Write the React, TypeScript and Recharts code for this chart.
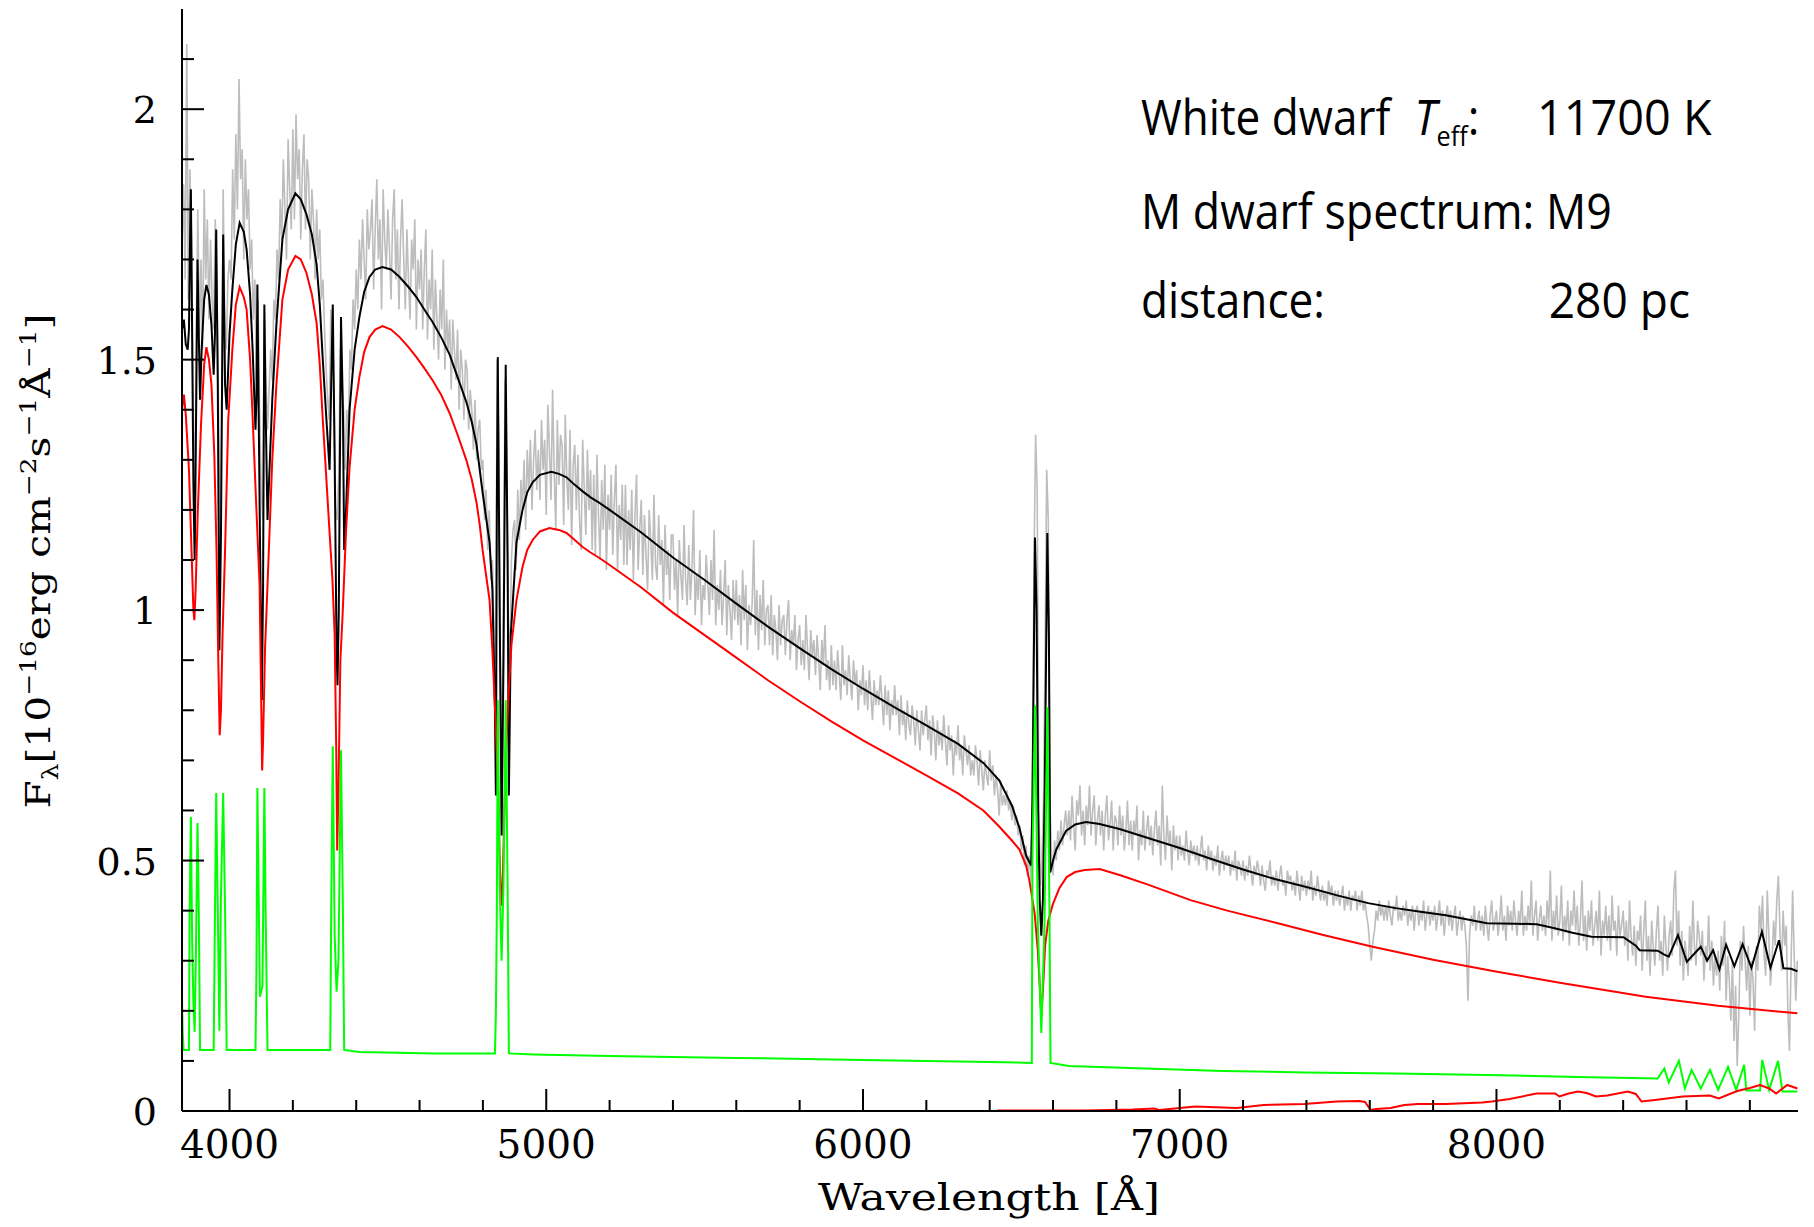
import React from "react";
import { LineChart, Line, XAxis, YAxis } from "recharts";

// observed spectrum, one value every 5 A starting at 3850 A (one row = 50 A)
const obsStart = 3850;
const obsStep = 5;
const observedFlux = [
  1.72, 1.85, 1.66, 2.13, 1.62, 1.88, 1.74, 1.4, 1.22, 1.55, // 3850
  1.8, 1.55, 1.7, 1.52, 1.84, 1.66, 1.78, 1.58, 1.74, 1.62, // 3900
  1.56, 1.78, 1.64, 1.42, 1.12, 1.38, 1.84, 1.58, 1.52, 1.66, // 3950
  1.7, 1.66, 1.88, 1.74, 1.95, 1.8, 2.06, 1.86, 1.92, 1.7, // 4000
  1.9, 1.78, 1.84, 1.68, 1.74, 1.58, 1.66, 1.46, 1.62, 1.4, // 4050
  1.24, 1.18, 1.58, 1.46, 1.36, 1.44, 1.52, 1.46, 1.62, 1.58, // 4100
  1.72, 1.66, 1.82, 1.74, 1.9, 1.8, 1.7, 1.94, 1.84, 1.76, // 4150
  1.96, 1.78, 1.99, 1.86, 1.92, 1.74, 1.88, 1.95, 1.76, 1.9, // 4200
  1.86, 1.7, 1.84, 1.78, 1.66, 1.8, 1.7, 1.76, 1.62, 1.66, // 4250
  1.56, 1.48, 1.42, 1.38, 1.6, 1.54, 1.44, 1.2, 1.18, 1.28, // 4300
  1.52, 1.46, 1.4, 1.28, 1.4, 1.34, 1.52, 1.48, 1.62, 1.56, // 4350
  1.68, 1.6, 1.74, 1.66, 1.78, 1.7, 1.62, 1.8, 1.72, 1.76, // 4400
  1.82, 1.64, 1.76, 1.86, 1.7, 1.78, 1.6, 1.84, 1.74, 1.68, // 4450
  1.8, 1.72, 1.62, 1.78, 1.84, 1.66, 1.76, 1.6, 1.74, 1.82, // 4500
  1.7, 1.6, 1.76, 1.66, 1.58, 1.74, 1.68, 1.78, 1.56, 1.7, // 4550
  1.64, 1.72, 1.56, 1.68, 1.76, 1.54, 1.66, 1.6, 1.72, 1.52, // 4600
  1.66, 1.58, 1.5, 1.64, 1.56, 1.7, 1.48, 1.6, 1.52, 1.58, // 4650
  1.44, 1.58, 1.52, 1.46, 1.56, 1.4, 1.52, 1.48, 1.38, 1.5, // 4700
  1.48, 1.36, 1.44, 1.4, 1.32, 1.42, 1.3, 1.36, 1.38, 1.28, // 4750
  1.3, 1.18, 1.24, 1.12, 1.2, 1.06, 1.1, 0.96, 0.82, 1.5, // 4800
  1.34, 0.88, 0.72, 1.02, 1.46, 1.3, 0.98, 0.9, 1.1, 1.16, // 4850
  1.18, 1.08, 1.24, 1.14, 1.26, 1.2, 1.3, 1.16, 1.32, 1.24, // 4900
  1.34, 1.2, 1.3, 1.36, 1.24, 1.32, 1.22, 1.38, 1.28, 1.34, // 4950
  1.19, 1.41, 1.32, 1.22, 1.44, 1.28, 1.16, 1.38, 1.25, 1.35, // 5000
  1.33, 1.17, 1.39, 1.26, 1.2, 1.36, 1.13, 1.29, 1.33, 1.2, // 5050
  1.31, 1.18, 1.12, 1.34, 1.24, 1.15, 1.32, 1.2, 1.28, 1.12, // 5100
  1.27, 1.11, 1.31, 1.19, 1.1, 1.26, 1.16, 1.29, 1.08, 1.23, // 5150
  1.16, 1.27, 1.11, 1.22, 1.29, 1.08, 1.21, 1.14, 1.25, 1.09, // 5200
  1.25, 1.09, 1.2, 1.12, 1.24, 1.06, 1.19, 1.27, 1.08, 1.16, // 5250
  1.22, 1.07, 1.19, 1.11, 1.04, 1.2, 1.14, 1.06, 1.23, 1.09, // 5300
  1.06, 1.19, 1.09, 1.14, 1.01, 1.17, 1.07, 1.12, 1.02, 1.15, // 5350
  1.15, 1.04, 1.1, 0.99, 1.14, 1.07, 1.02, 1.17, 1.06, 1.01, // 5400
  1.13, 1.02, 1.08, 1.2, 0.99, 1.07, 1.02, 1.12, 0.97, 1.05, // 5450
  1.02, 1.11, 1.05, 0.99, 1.1, 1.02, 1.16, 0.97, 1.05, 1.0, // 5500
  1.08, 0.97, 1.03, 1.1, 0.95, 1.05, 1.0, 0.94, 1.06, 0.98, // 5550
  1.06, 0.97, 1.03, 0.93, 1.08, 0.98, 1.05, 0.92, 1.01, 0.97, // 5600
  1.01, 1.14, 0.95, 1.04, 0.92, 1.03, 0.96, 1.06, 0.93, 1.0, // 5650
  1.01, 0.93, 1.03, 0.91, 0.99, 0.96, 0.9, 1.01, 0.93, 0.98, // 5700
  0.99, 0.91, 0.98, 1.02, 0.9, 0.96, 0.93, 0.99, 0.88, 0.94, // 5750
  0.97, 0.89, 0.94, 0.88, 0.99, 0.92, 0.86, 0.96, 0.91, 0.94, // 5800
  0.87, 0.95, 0.9, 0.84, 0.94, 0.89, 0.97, 0.86, 0.9, 0.84, // 5850
  0.93, 0.85, 0.9, 0.84, 0.92, 0.87, 0.82, 0.93, 0.85, 0.88, // 5900
  0.83, 0.91, 0.86, 0.82, 0.9, 0.85, 0.88, 0.8, 0.86, 0.83, // 5950
  0.89, 0.81, 0.86, 0.8, 0.88, 0.83, 0.78, 0.86, 0.81, 0.84, // 6000
  0.81, 0.87, 0.82, 0.77, 0.85, 0.79, 0.84, 0.76, 0.82, 0.79, // 6050
  0.85, 0.79, 0.82, 0.75, 0.83, 0.77, 0.8, 0.74, 0.82, 0.77, // 6100
  0.75, 0.81, 0.78, 0.73, 0.8, 0.76, 0.72, 0.8, 0.75, 0.78, // 6150
  0.81, 0.74, 0.78, 0.71, 0.79, 0.76, 0.7, 0.78, 0.73, 0.76, // 6200
  0.72, 0.79, 0.74, 0.69, 0.77, 0.72, 0.75, 0.67, 0.74, 0.71, // 6250
  0.77, 0.7, 0.73, 0.67, 0.75, 0.72, 0.69, 0.73, 0.67, 0.7, // 6300
  0.67, 0.73, 0.7, 0.65, 0.72, 0.68, 0.64, 0.7, 0.67, 0.65, // 6350
  0.72, 0.66, 0.69, 0.63, 0.67, 0.64, 0.59, 0.66, 0.61, 0.63, // 6400
  0.61, 0.64, 0.6, 0.62, 0.58, 0.61, 0.57, 0.59, 0.55, 0.57, // 6450
  0.52, 0.55, 0.49, 0.53, 0.47, 0.51, 0.46, 0.66, 1.1, 1.35, // 6500
  1.24, 0.62, 0.45, 0.5, 0.62, 0.92, 1.28, 1.18, 0.62, 0.52, // 6550
  0.47, 0.54, 0.5, 0.56, 0.52, 0.58, 0.53, 0.57, 0.6, 0.55, // 6600
  0.6, 0.54, 0.63, 0.57, 0.52, 0.62, 0.59, 0.65, 0.55, 0.6, // 6650
  0.53, 0.61, 0.57, 0.65, 0.55, 0.6, 0.63, 0.53, 0.58, 0.61, // 6700
  0.55, 0.6, 0.52, 0.59, 0.63, 0.54, 0.57, 0.62, 0.52, 0.59, // 6750
  0.58, 0.53, 0.61, 0.55, 0.59, 0.52, 0.56, 0.62, 0.53, 0.58, // 6800
  0.52, 0.58, 0.55, 0.61, 0.5, 0.56, 0.53, 0.6, 0.52, 0.56, // 6850
  0.59, 0.53, 0.57, 0.51, 0.56, 0.6, 0.53, 0.57, 0.49, 0.65, // 6900
  0.55, 0.5, 0.59, 0.53, 0.56, 0.48, 0.57, 0.52, 0.55, 0.5, // 6950
  0.55, 0.51, 0.53, 0.5, 0.56, 0.52, 0.49, 0.54, 0.51, 0.53, // 7000
  0.5, 0.53, 0.49, 0.52, 0.55, 0.5, 0.52, 0.48, 0.53, 0.5, // 7050
  0.52, 0.48, 0.51, 0.49, 0.53, 0.47, 0.5, 0.52, 0.48, 0.51, // 7100
  0.49, 0.51, 0.47, 0.5, 0.48, 0.52, 0.46, 0.5, 0.49, 0.47, // 7150
  0.5, 0.46, 0.49, 0.47, 0.51, 0.48, 0.45, 0.49, 0.47, 0.5, // 7200
  0.48, 0.45, 0.49, 0.46, 0.44, 0.48, 0.47, 0.5, 0.45, 0.47, // 7250
  0.45, 0.48, 0.44, 0.47, 0.49, 0.45, 0.46, 0.43, 0.48, 0.46, // 7300
  0.47, 0.44, 0.46, 0.43, 0.48, 0.45, 0.42, 0.47, 0.44, 0.46, // 7350
  0.43, 0.46, 0.44, 0.48, 0.42, 0.45, 0.43, 0.47, 0.44, 0.42, // 7400
  0.45, 0.42, 0.44, 0.41, 0.46, 0.43, 0.45, 0.41, 0.44, 0.42, // 7450
  0.44, 0.41, 0.43, 0.45, 0.4, 0.43, 0.41, 0.44, 0.4, 0.43, // 7500
  0.42, 0.44, 0.4, 0.43, 0.41, 0.44, 0.4, 0.42, 0.39, 0.37, // 7550
  0.33, 0.3, 0.34, 0.36, 0.4, 0.38, 0.42, 0.39, 0.41, 0.38, // 7600
  0.41, 0.38, 0.42, 0.39, 0.37, 0.41, 0.4, 0.43, 0.38, 0.4, // 7650
  0.38, 0.41, 0.39, 0.42, 0.37, 0.4, 0.38, 0.41, 0.36, 0.4, // 7700
  0.41, 0.37, 0.4, 0.38, 0.42, 0.36, 0.39, 0.41, 0.37, 0.4, // 7750
  0.38, 0.41, 0.36, 0.39, 0.42, 0.37, 0.4, 0.35, 0.39, 0.41, // 7800
  0.37, 0.4, 0.36, 0.39, 0.41, 0.35, 0.38, 0.4, 0.36, 0.39, // 7850
  0.37, 0.33, 0.22, 0.35, 0.39, 0.37, 0.41, 0.36, 0.38, 0.4, // 7900
  0.36, 0.39, 0.35, 0.41, 0.37, 0.34, 0.39, 0.42, 0.36, 0.38, // 7950
  0.4, 0.35, 0.38, 0.43, 0.36, 0.39, 0.34, 0.41, 0.37, 0.4, // 8000
  0.36, 0.42, 0.38, 0.35, 0.4, 0.37, 0.44, 0.35, 0.39, 0.36, // 8050
  0.41, 0.37, 0.46, 0.35, 0.39, 0.42, 0.34, 0.38, 0.41, 0.36, // 8100
  0.39, 0.35, 0.42, 0.37, 0.48, 0.34, 0.4, 0.36, 0.43, 0.35, // 8150
  0.38, 0.45, 0.34, 0.39, 0.36, 0.42, 0.33, 0.4, 0.37, 0.44, // 8200
  0.36, 0.41, 0.33, 0.38, 0.46, 0.34, 0.39, 0.32, 0.4, 0.36, // 8250
  0.42, 0.33, 0.37, 0.4, 0.34, 0.44, 0.31, 0.38, 0.35, 0.41, // 8300
  0.34, 0.39, 0.32, 0.43, 0.36, 0.38, 0.31, 0.41, 0.35, 0.37, // 8350
  0.4, 0.33, 0.38, 0.3, 0.42, 0.35, 0.31, 0.37, 0.29, 0.36, // 8400
  0.34, 0.39, 0.28, 0.36, 0.42, 0.3, 0.35, 0.27, 0.38, 0.33, // 8450
  0.29, 0.36, 0.41, 0.3, 0.34, 0.27, 0.39, 0.33, 0.28, 0.35, // 8500
  0.38, 0.31, 0.44, 0.48, 0.33, 0.4, 0.29, 0.36, 0.26, 0.34, // 8550
  0.31, 0.27, 0.37, 0.3, 0.42, 0.33, 0.29, 0.38, 0.35, 0.31, // 8600
  0.36, 0.26, 0.33, 0.3, 0.39, 0.28, 0.34, 0.25, 0.31, 0.27, // 8650
  0.32, 0.24, 0.35, 0.29, 0.38, 0.22, 0.31, 0.26, 0.18, 0.3, // 8700
  0.14, 0.25, 0.09, 0.19, 0.34, 0.28, 0.37, 0.3, 0.24, 0.33, // 8750
  0.19, 0.3, 0.26, 0.16, 0.33, 0.28, 0.41, 0.36, 0.43, 0.31, // 8800
  0.27, 0.44, 0.35, 0.25, 0.3, 0.38, 0.33, 0.42, 0.47, 0.36, // 8850
  0.28, 0.4, 0.33, 0.37, 0.2, 0.12, 0.29, 0.44, 0.31, 0.22, // 8900
  0.3,
];

// combined model (white dwarf + M dwarf + emission)
const modelTotal: [number, number][] = [
  [3850, 1.56], [3856, 1.58], [3862, 1.53], [3868, 1.52], [3872, 1.56], [3875, 1.72],
  [3878, 1.84], [3882, 1.55], [3886, 1.25], [3890, 1.1], [3894, 1.35], [3899, 1.7],
  [3903, 1.55], [3907, 1.42], [3912, 1.52], [3920, 1.62], [3927, 1.649], [3935, 1.63],
  [3943, 1.57], [3950, 1.47], [3954, 1.55], [3958, 1.76], [3963, 1.45], [3968, 0.92],
  [3973, 1.15], [3980, 1.75], [3986, 1.45], [3991, 1.4], [4000, 1.55], [4009, 1.64],
  [4020, 1.73], [4032, 1.773], [4045, 1.755], [4054, 1.72], [4065, 1.63], [4073, 1.52],
  [4082, 1.36], [4085, 1.42], [4088, 1.65], [4096, 1.15], [4102, 0.82], [4106, 1.05],
  [4110, 1.61], [4114, 1.4], [4120, 1.18], [4135, 1.42], [4148, 1.57], [4167, 1.74],
  [4185, 1.8], [4208, 1.832], [4225, 1.82], [4243, 1.79], [4260, 1.75], [4275, 1.69],
  [4285, 1.61], [4294, 1.505], [4305, 1.39], [4316, 1.28], [4321, 1.45], [4326, 1.61],
  [4332, 1.3], [4338, 0.92], [4341, 0.85], [4345, 1.0], [4352, 1.585], [4358, 1.4],
  [4362, 1.12], [4368, 1.2], [4379, 1.4], [4395, 1.52], [4410, 1.585], [4425, 1.635],
  [4442, 1.665], [4460, 1.68], [4483, 1.685], [4510, 1.68], [4537, 1.665], [4565, 1.645],
  [4590, 1.625], [4615, 1.6], [4641, 1.575], [4668, 1.545], [4695, 1.51], [4720, 1.465],
  [4748, 1.415], [4765, 1.375], [4780, 1.33], [4799, 1.235], [4810, 1.185], [4821, 1.135],
  [4830, 1.04], [4838, 0.8], [4841, 0.63], [4844, 1.2], [4847, 1.505], [4853, 1.0],
  [4859, 0.55], [4865, 0.9], [4872, 1.49], [4878, 1.1], [4882, 0.63], [4888, 0.95],
  [4906, 1.135], [4925, 1.2], [4940, 1.235], [4957, 1.255], [4980, 1.27], [5016, 1.276],
  [5040, 1.272], [5064, 1.265], [5090, 1.25], [5115, 1.237], [5140, 1.225], [5168, 1.214],
  [5200, 1.2], [5300, 1.155], [5400, 1.105], [5500, 1.06], [5600, 1.013], [5700, 0.967],
  [5800, 0.924], [5900, 0.882], [6000, 0.843], [6100, 0.806], [6200, 0.77], [6300, 0.733],
  [6380, 0.695], [6430, 0.66], [6470, 0.61], [6494, 0.565], [6515, 0.51], [6531, 0.49],
  [6535, 0.62], [6543, 1.145], [6548, 1.0], [6553, 0.6], [6558, 0.42], [6563, 0.35],
  [6568, 0.42], [6574, 0.65], [6582, 1.154], [6587, 0.95], [6591, 0.476], [6600, 0.5],
  [6610, 0.522], [6641, 0.559], [6670, 0.572], [6704, 0.577], [6747, 0.573], [6810, 0.563],
  [6900, 0.545], [7000, 0.525], [7100, 0.503], [7200, 0.482], [7300, 0.463], [7400, 0.447],
  [7500, 0.43], [7595, 0.415], [7682, 0.405], [7760, 0.398], [7840, 0.391], [7970, 0.375],
  [8060, 0.374], [8127, 0.373], [8184, 0.365], [8240, 0.356], [8300, 0.348], [8401, 0.347],
  [8440, 0.33], [8452, 0.321], [8509, 0.32], [8530, 0.312], [8544, 0.308], [8573, 0.351],
  [8601, 0.298], [8645, 0.328], [8665, 0.3], [8684, 0.321], [8704, 0.283], [8725, 0.332],
  [8751, 0.289], [8777, 0.333], [8805, 0.286], [8838, 0.358], [8865, 0.286], [8892, 0.341],
  [8906, 0.285], [8930, 0.284], [8950, 0.279],
];

// white dwarf model
const whiteDwarf: [number, number][] = [
  [3850, 1.4], [3856, 1.43], [3862, 1.39], [3872, 1.28], [3880, 1.12], [3886, 1.0],
  [3889, 0.98], [3893, 1.04], [3900, 1.2], [3910, 1.37], [3920, 1.49], [3927, 1.525],
  [3935, 1.5], [3943, 1.45], [3952, 1.31], [3959, 1.12], [3964, 0.92], [3969, 0.75],
  [3973, 0.8], [3978, 0.95], [3986, 1.12], [3996, 1.38], [4009, 1.52], [4020, 1.61],
  [4032, 1.645], [4045, 1.625], [4054, 1.6], [4065, 1.5], [4073, 1.385], [4085, 1.2],
  [4095, 1.05], [4100, 0.82], [4103, 0.68], [4106, 0.74], [4112, 0.92], [4120, 1.05],
  [4135, 1.3], [4148, 1.45], [4167, 1.62], [4185, 1.68], [4208, 1.707], [4225, 1.7],
  [4243, 1.673], [4260, 1.63], [4275, 1.573], [4285, 1.49], [4294, 1.385], [4305, 1.27],
  [4316, 1.154], [4325, 1.06], [4332, 0.95], [4337, 0.72], [4340, 0.52], [4344, 0.64],
  [4350, 0.9], [4357, 0.99], [4368, 1.16], [4379, 1.285], [4395, 1.4], [4410, 1.465],
  [4425, 1.515], [4442, 1.545], [4460, 1.56], [4483, 1.567], [4510, 1.56], [4537, 1.545],
  [4565, 1.525], [4590, 1.505], [4615, 1.483], [4641, 1.459], [4668, 1.43], [4695, 1.393],
  [4720, 1.35], [4748, 1.299], [4765, 1.26], [4780, 1.214], [4790, 1.17], [4799, 1.12],
  [4810, 1.07], [4821, 1.02], [4830, 0.92], [4840, 0.78], [4848, 0.64], [4854, 0.48],
  [4858, 0.41], [4862, 0.45], [4866, 0.55], [4872, 0.7], [4880, 0.82], [4890, 0.93],
  [4906, 1.02], [4925, 1.086], [4940, 1.12], [4957, 1.14], [4980, 1.157], [5010, 1.164],
  [5040, 1.16], [5064, 1.154], [5090, 1.14], [5115, 1.126], [5140, 1.115], [5168, 1.104],
  [5200, 1.09], [5300, 1.045], [5400, 0.995], [5500, 0.95], [5600, 0.905], [5700, 0.86],
  [5800, 0.818], [5900, 0.778], [6000, 0.74], [6100, 0.705], [6200, 0.67], [6300, 0.634],
  [6380, 0.6], [6430, 0.568], [6470, 0.54], [6494, 0.522], [6515, 0.49], [6526, 0.458],
  [6542, 0.394], [6552, 0.32], [6558, 0.25], [6563, 0.19], [6568, 0.24], [6575, 0.33],
  [6585, 0.38], [6599, 0.412], [6620, 0.445], [6643, 0.467], [6670, 0.477], [6700, 0.481],
  [6747, 0.483], [6810, 0.471], [6900, 0.452], [7034, 0.421], [7150, 0.4], [7322, 0.373],
  [7450, 0.352], [7609, 0.328], [7800, 0.302], [8002, 0.278], [8200, 0.256], [8471, 0.228],
  [8700, 0.21], [8950, 0.195],
];

// emission component
const emission: [number, number][] = [
  [3850, 0.23], [3852, 0.16], [3855, 0.122], [3872, 0.122], [3874, 0.4], [3878, 0.587],
  [3882, 0.34], [3886, 0.215], [3890, 0.158], [3894, 0.32], [3899, 0.575], [3903, 0.4],
  [3907, 0.122], [3950, 0.122], [3954, 0.39], [3958, 0.635], [3963, 0.4], [3968, 0.16],
  [3973, 0.43], [3980, 0.635], [3986, 0.4], [3991, 0.122], [4082, 0.122], [4085, 0.28],
  [4088, 0.645], [4096, 0.228], [4104, 0.25], [4110, 0.645], [4114, 0.4], [4120, 0.122],
  [4318, 0.122], [4321, 0.395], [4326, 0.728], [4332, 0.35], [4338, 0.238], [4344, 0.3],
  [4352, 0.72], [4358, 0.4], [4362, 0.122], [4410, 0.118], [4650, 0.115], [4838, 0.115],
  [4841, 0.195], [4844, 0.4], [4847, 0.82], [4853, 0.45], [4859, 0.3], [4865, 0.45],
  [4872, 0.82], [4878, 0.45], [4882, 0.115], [4960, 0.113], [5200, 0.11], [5600, 0.106],
  [6000, 0.102], [6400, 0.098], [6533, 0.096], [6535, 0.5], [6543, 0.81], [6552, 0.37],
  [6563, 0.156], [6573, 0.37], [6582, 0.806], [6589, 0.385], [6592, 0.096], [6650, 0.09],
  [6747, 0.088], [6891, 0.085], [7136, 0.08], [7394, 0.077], [7682, 0.075], [7970, 0.072],
  [8257, 0.068], [8509, 0.065], [8530, 0.085], [8544, 0.057], [8576, 0.1], [8595, 0.045],
  [8616, 0.082], [8645, 0.045], [8674, 0.082], [8700, 0.042], [8731, 0.088], [8757, 0.042],
  [8782, 0.092], [8789, 0.041], [8832, 0.041], [8839, 0.102], [8861, 0.042], [8889, 0.1],
  [8903, 0.039], [8950, 0.039],
];

// M dwarf template
const mDwarf: [number, number][] = [
  [6424, 0.001], [6700, 0.001], [6850, 0.003], [6919, 0.005], [6935, 0.002], [7049, 0.009],
  [7180, 0.006], [7265, 0.012], [7394, 0.014], [7495, 0.019], [7567, 0.02], [7585, 0.018],
  [7603, 0.002], [7620, 0.004], [7666, 0.006], [7709, 0.012], [7752, 0.014], [7840, 0.014],
  [7955, 0.017], [7985, 0.019], [8042, 0.024], [8127, 0.035], [8185, 0.035], [8199, 0.029],
  [8228, 0.035], [8257, 0.039], [8285, 0.036], [8314, 0.029], [8350, 0.031], [8415, 0.039],
  [8440, 0.034], [8458, 0.019], [8500, 0.022], [8588, 0.029], [8630, 0.03], [8674, 0.031],
  [8702, 0.025], [8760, 0.04], [8800, 0.046], [8832, 0.052], [8861, 0.045], [8883, 0.035],
  [8918, 0.052], [8950, 0.045],
];

const xTicks = [
  4000, 4200, 4400, 4600, 4800, 5000, 5200, 5400, 5600, 5800, 6000, 6200, 6400,
  6600, 6800, 7000, 7200, 7400, 7600, 7800, 8000, 8200, 8400, 8600, 8800,
];
const xLabels = [4000, 5000, 6000, 7000, 8000];
const yTicks = [
  0, 0.1, 0.2, 0.3, 0.4, 0.5, 0.6, 0.7, 0.8, 0.9, 1, 1.1, 1.2, 1.3, 1.4, 1.5,
  1.6, 1.7, 1.8, 1.9, 2, 2.1,
];
const yLabels = [0, 0.5, 1, 1.5, 2];

const toPoints = (arr: [number, number][]) => arr.map(([x, y]) => ({ x, y }));
const observed = observedFlux.map((y, i) => ({ x: obsStart + i * obsStep, y }));

const serif = "DejaVu Serif";
const sans = "Open Sans";

const BottomTick = ({ x, y, payload }: any) => {
  const major = xLabels.includes(payload.value);
  return (
    <g>
      <line x1={x} y1={y} x2={x} y2={y - (major ? 22 : 11)} stroke="#000" strokeWidth={2} />
      {major && (
        <text x={x} y={y + 47} textAnchor="middle" fontFamily={serif} fontSize={39} fill="#000">
          {payload.value}
        </text>
      )}
    </g>
  );
};

const TopTick = ({ x, y, payload }: any) => {
  const major = xLabels.includes(payload.value);
  return <line x1={x} y1={y} x2={x} y2={y + (major ? 22 : 11)} stroke="#000" strokeWidth={2} />;
};

const LeftTick = ({ x, y, payload }: any) => {
  const major = yLabels.includes(payload.value);
  return (
    <g>
      <line x1={x} y1={y} x2={x + (major ? 22 : 12)} y2={y} stroke="#000" strokeWidth={2} />
      {major && (
        <text x={x - 25} y={y + 14} textAnchor="end" fontFamily={serif} fontSize={38} fill="#000">
          {payload.value}
        </text>
      )}
    </g>
  );
};

const RightTick = ({ x, y, payload }: any) => {
  const major = yLabels.includes(payload.value);
  return <line x1={x} y1={y} x2={x - (major ? 22 : 12)} y2={y} stroke="#000" strokeWidth={2} />;
};

const axisLine = { stroke: "#000", strokeWidth: 2 };

export default function App() {
  return (
    <div style={{ position: "absolute", left: 0, top: 0, width: 1814, height: 1227, background: "#fff" }}>
      <LineChart width={1814} height={1227} margin={{ top: 9, right: 16, bottom: 0, left: 0 }}>
        <XAxis
          xAxisId="b"
          type="number"
          dataKey="x"
          domain={[3850, 8952]}
          allowDataOverflow
          ticks={xTicks}
          interval={0}
          tick={(p: any) => <BottomTick {...p} />}
          tickLine={false}
          tickSize={0}
          tickMargin={0}
          height={116}
          axisLine={axisLine}
        />
        <XAxis
          xAxisId="t"
          orientation="top"
          type="number"
          dataKey="x"
          domain={[3850, 8952]}
          allowDataOverflow
          ticks={xTicks}
          interval={0}
          tick={(p: any) => <TopTick {...p} />}
          tickLine={false}
          tickSize={0}
          tickMargin={0}
          height={0}
          axisLine={axisLine}
        />
        <YAxis
          yAxisId="l"
          type="number"
          domain={[0, 2.2]}
          allowDataOverflow
          ticks={yTicks}
          interval={0}
          tick={(p: any) => <LeftTick {...p} />}
          tickLine={false}
          tickSize={0}
          tickMargin={0}
          width={182}
          axisLine={axisLine}
        />
        <YAxis
          yAxisId="r"
          orientation="right"
          type="number"
          domain={[0, 2.2]}
          allowDataOverflow
          ticks={yTicks}
          interval={0}
          tick={(p: any) => <RightTick {...p} />}
          tickLine={false}
          tickSize={0}
          tickMargin={0}
          width={0}
          axisLine={axisLine}
        />
        <Line xAxisId="b" yAxisId="l" data={observed} dataKey="y" type="linear" stroke="#bdbdbd" strokeWidth={1.6} dot={false} isAnimationActive={false} />
        <Line xAxisId="b" yAxisId="l" data={toPoints(modelTotal)} dataKey="y" type="linear" stroke="#000000" strokeWidth={2} dot={false} isAnimationActive={false} />
        <Line xAxisId="b" yAxisId="l" data={toPoints(whiteDwarf)} dataKey="y" type="linear" stroke="#ff0000" strokeWidth={2} dot={false} isAnimationActive={false} />
        <Line xAxisId="b" yAxisId="l" data={toPoints(emission)} dataKey="y" type="linear" stroke="#00ff00" strokeWidth={2} dot={false} isAnimationActive={false} />
        <Line xAxisId="b" yAxisId="l" data={toPoints(mDwarf)} dataKey="y" type="linear" stroke="#ff0000" strokeWidth={2} dot={false} isAnimationActive={false} />
      </LineChart>
      <svg width={1814} height={1227} style={{ position: "absolute", left: 0, top: 0, pointerEvents: "none" }}>
        <text
          transform="translate(50, 561) rotate(-90)"
          textAnchor="middle"
          fontFamily={serif}
          fontSize={34}
          fill="#000"
          textLength={495}
          lengthAdjust="spacingAndGlyphs"
        >
          <tspan>F</tspan>
          <tspan dy={8} fontSize={22}>λ</tspan>
          <tspan dy={-8}>[10</tspan>
          <tspan dy={-14} fontSize={22}>−16</tspan>
          <tspan dy={14}>erg cm</tspan>
          <tspan dy={-14} fontSize={22}>−2</tspan>
          <tspan dy={14}>s</tspan>
          <tspan dy={-14} fontSize={22}>−1</tspan>
          <tspan dy={14}>Å</tspan>
          <tspan dy={-14} fontSize={22}>−1</tspan>
          <tspan dy={14}>]</tspan>
        </text>
        <text x={989} y={1210} textAnchor="middle" fontFamily={serif} fontSize={38} fill="#000" textLength={342} lengthAdjust="spacingAndGlyphs">
          Wavelength [Å]
        </text>
        <g transform="translate(1141, 0) scale(0.9, 1)" fontFamily={sans} fontSize={49} fill="#000">
          <text x={0} y={135}>
            White dwarf <tspan x={304} fontStyle="italic">T</tspan>
            <tspan fontSize={28} dy={11}>eff</tspan>
            <tspan dy={-11}>:</tspan>
          </text>
          <text x={440} y={135} textLength={194} lengthAdjust="spacingAndGlyphs">11700 K</text>
          <text x={0} y={229} textLength={523} lengthAdjust="spacingAndGlyphs">M dwarf spectrum: M9</text>
          <text x={0} y={318}>distance:</text>
          <text x={453} y={318} textLength={157} lengthAdjust="spacingAndGlyphs">280 pc</text>
        </g>
      </svg>
    </div>
  );
}
